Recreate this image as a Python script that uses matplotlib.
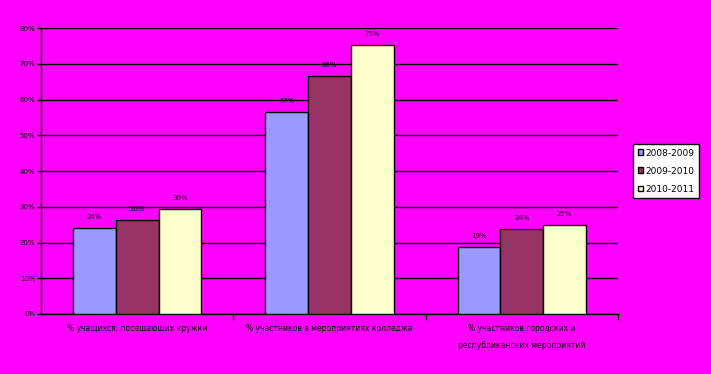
import numpy as np
import matplotlib
matplotlib.use("Agg")
import matplotlib.pyplot as plt
from matplotlib.patches import Patch

categories = ["% учащихся, посещающих кружки",
              "% участников в мероприятиях колледжа",
              "% участников городских и\nреспубликанских мероприятий"]
years = ["2008-2009", "2009-2010", "2010-2011"]
values = [[24, 56.5, 18.7],
          [26.3, 66.5, 23.7],
          [29.4, 75.2, 24.8]]
labels = [["24%", "57%", "19%"],
          ["26%", "66%", "24%"],
          ["30%", "75%", "25%"]]
colors = ["#9999FF", "#993366", "#FFFFCC"]
bg = "#FF00FF"

fig = plt.figure(figsize=(7.11, 3.74), dpi=100, facecolor=bg)
ax = fig.add_axes([41 / 711, 60 / 374, 577 / 711, 286 / 374], facecolor=bg)

x = np.arange(len(categories))
w = 0.222
for i in range(3):
    bars = ax.bar(x + (i - 1) * w, values[i], w, color=colors[i],
                  edgecolor="black", linewidth=1, zorder=3)
    for b, lab in zip(bars, labels[i]):
        ax.annotate(lab, (b.get_x() + b.get_width() / 2, b.get_height()),
                    xytext=(0, 6), textcoords="offset points",
                    ha="center", va="bottom", fontsize=5, color="black")

ax.set_xlim(-0.5, 2.5)
ax.set_ylim(0, 80)
ax.set_yticks(range(0, 81, 10))
ax.set_yticklabels([f"{v}%" for v in range(0, 81, 10)], fontsize=5)
ax.yaxis.grid(True, color="black", linewidth=1, zorder=0)
ax.set_xticks(x)
ax.set_xticklabels(categories, fontsize=5.5, color="black", linespacing=2.2)
ax.tick_params(axis="x", length=0, pad=7)
ax.tick_params(axis="y", length=3, width=1, pad=1)
ax.set_xticks([0.5, 1.5, 2.5], minor=True)
ax.tick_params(axis="x", which="minor", length=4, width=1, direction="out")

for s in ["top", "right"]:
    ax.spines[s].set_visible(False)
ax.spines["left"].set_linewidth(1)
ax.spines["bottom"].set_linewidth(1)
ax.axhline(80, color="#808080", linewidth=1, zorder=1)

handles = [Patch(facecolor=c, edgecolor="black", label=y) for c, y in zip(colors, years)]
leg = fig.legend(handles=handles, loc="upper left", bbox_to_anchor=(633 / 711, 1 - 144 / 374),
                 fontsize=6.5, frameon=True, fancybox=False, framealpha=1,
                 handlelength=0.6, handleheight=0.6, handletextpad=0.3,
                 borderpad=0.5, labelspacing=1.0, borderaxespad=0)
leg.get_frame().set_edgecolor("black")
leg.get_frame().set_facecolor("white")
leg.get_frame().set_linewidth(1)

fig.savefig("out.png", dpi=100, facecolor=bg)
